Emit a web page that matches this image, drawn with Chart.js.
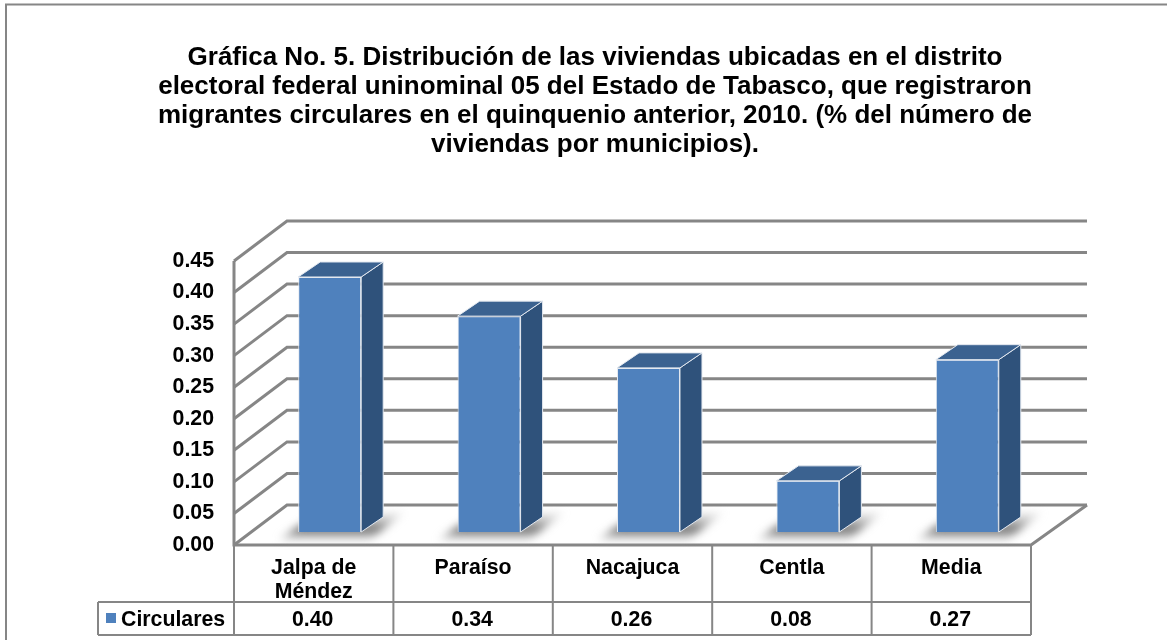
<!DOCTYPE html>
<html><head><meta charset="utf-8">
<style>html,body{margin:0;padding:0;background:#fff}canvas{display:block}</style>
<script src="https://cdn.jsdelivr.net/npm/chart.js@4"></script>
</head><body><canvas id="c" width="1167" height="640"></canvas>
<script>
const categories = [["Jalpa de","Méndez"],"Paraíso","Nacajuca","Centla","Media"];
const seriesName = "Circulares";
const circulares = [0.404,0.342,0.26,0.081,0.273];
const titleLines = ["Gráfica No. 5. Distribución de las viviendas ubicadas en el distrito",
 "electoral federal uninominal 05 del Estado de Tabasco, que registraron",
 "migrantes circulares en el quinquenio anterior, 2010. (% del número de",
 "viviendas por municipios)."];
const FONT = "'Liberation Sans', Arial, sans-serif";
const GREY = "#868686";
const DX = 53, DXR = 56, DY = -40;  // depth of the 3D box
const BX = 16, BY = -13;      // bar plane shift inside the box
const SX = 22, SY = -15;      // bar depth
const LABEL_SIZE = 21.3;

const threeD = {
  id:'threeD',
  beforeDraw(ch){
    const c=ch.ctx; c.save();
    c.fillStyle='#fff'; c.fillRect(0,0,ch.width,ch.height);
    c.strokeStyle=GREY; c.lineWidth=2;
    c.beginPath(); c.moveTo(6,640); c.lineTo(6,4.5); c.lineTo(1167,4.5); c.stroke();
    c.restore();
  },
  beforeDatasetsDraw(ch){
    const c=ch.ctx, y=ch.scales.y, a=ch.chartArea;
    c.save();
    c.strokeStyle=GREY; c.lineWidth=3; c.lineJoin='miter';
    y.ticks.forEach(t=>{
      const py=y.getPixelForValue(t.value);
      c.beginPath(); c.moveTo(a.left,py); c.lineTo(a.left+DX,py+DY); c.lineTo(a.right+DXR,py+DY); c.stroke();
    });
    c.beginPath(); c.moveTo(a.left,a.top); c.lineTo(a.left,a.bottom); c.lineTo(a.right,a.bottom); c.lineTo(a.right+DXR,a.bottom+DY); c.stroke();
    // soft floor shadows
    const m=ch.getDatasetMeta(0);
    m.data.forEach(b=>{
      const L=b.x-b.width/2+BX, R=b.x+b.width/2+BX, B=a.bottom+BY;
      const g=c.createLinearGradient(0,B-20,0,B+10);
      g.addColorStop(0,'rgba(190,190,190,.15)');g.addColorStop(.6,'rgba(95,95,95,.95)');g.addColorStop(1,'rgba(190,190,190,.15)');
      c.save(); c.filter='blur(4px)'; c.fillStyle=g;
      c.beginPath(); c.moveTo(L-20,B+8); c.lineTo(R+8,B+8); c.lineTo(R+44,B-20); c.lineTo(L+20,B-20); c.closePath(); c.fill();
      c.restore();
    });
    c.restore();
    c.save(); c.translate(BX,BY);
  },
  afterDatasetsDraw(ch){
    const c=ch.ctx;
    const m=ch.getDatasetMeta(0);
    m.data.forEach(b=>{
      const L=b.x-b.width/2,R=b.x+b.width/2,T=b.y,B=b.base;
      c.lineWidth=1; c.strokeStyle='#e4e9f0'; c.lineJoin='round';
      c.fillStyle='#2f527b';
      c.beginPath(); c.moveTo(R,T); c.lineTo(R+SX,T+SY); c.lineTo(R+SX,B+SY); c.lineTo(R,B); c.closePath(); c.fill(); c.stroke();
      c.fillStyle='#3b6290';
      c.beginPath(); c.moveTo(L,T); c.lineTo(L+SX,T+SY); c.lineTo(R+SX,T+SY); c.lineTo(R,T); c.closePath(); c.fill(); c.stroke();
    });
    c.restore();
  },
  afterDraw(ch){
    const c=ch.ctx, x=ch.scales.x, a=ch.chartArea;
    const rowTop=602, rowBot=635, left=98;
    c.save();
    c.strokeStyle=GREY; c.lineWidth=2;
    c.beginPath();
    c.moveTo(left,rowTop); c.lineTo(a.right,rowTop);
    c.moveTo(left,rowBot); c.lineTo(a.right,rowBot);
    c.moveTo(left,rowTop); c.lineTo(left,rowBot);
    for(let i=0;i<=categories.length;i++){
      const px=a.left+(a.right-a.left)*i/categories.length;
      c.moveTo(px,a.bottom); c.lineTo(px,rowBot);
    }
    c.stroke();
    c.fillStyle='#4f81bd'; c.fillRect(106,613,10,10);
    c.fillStyle='#000'; c.font="bold "+LABEL_SIZE+"px "+FONT; c.textBaseline='middle';
    c.textAlign='left'; c.fillText(seriesName,121,620);
    c.textAlign='center';
    circulares.forEach((v,i)=>c.fillText(v.toFixed(2),x.getPixelForValue(i)-1,620.5));
    c.restore();
  }
};

new Chart(document.getElementById('c'),{
  type:'bar',
  data:{labels:categories,datasets:[{label:seriesName,data:circulares,backgroundColor:'#4f81bd',borderColor:'#e4e9f0',borderWidth:1,categoryPercentage:1,barPercentage:0.395}]},
  options:{
    responsive:false,animation:false,
    layout:{padding:{left:23,right:0,top:0,bottom:0}},
    plugins:{
      legend:{display:false},tooltip:{enabled:false},
      title:{display:true,text:titleLines,color:'#000',font:{family:FONT,size:26,weight:'bold',lineHeight:1.115},padding:{top:43,bottom:102}}
    },
    scales:{
      x:{grid:{display:false,drawTicks:false},border:{display:false},
         afterFit(s){s.height=95;},
         ticks:{color:'#000',font:{family:FONT,size:LABEL_SIZE,weight:'bold',lineHeight:1.127},padding:11,maxRotation:0,autoSkip:false}},
      y:{min:0,max:0.45,grid:{display:false,drawTicks:false},border:{display:false},
         afterFit(s){s.width=211;},
         ticks:{stepSize:0.05,color:'#000',font:{family:FONT,size:LABEL_SIZE,weight:'bold'},padding:20,callback:v=>v.toFixed(2)}},
      spacerRight:{axis:'y',position:'right',grid:{display:false,drawTicks:false},border:{display:false},
         ticks:{display:false},afterFit(s){s.width=136;}}
    }
  },
  plugins:[threeD]
});
</script></body></html>
